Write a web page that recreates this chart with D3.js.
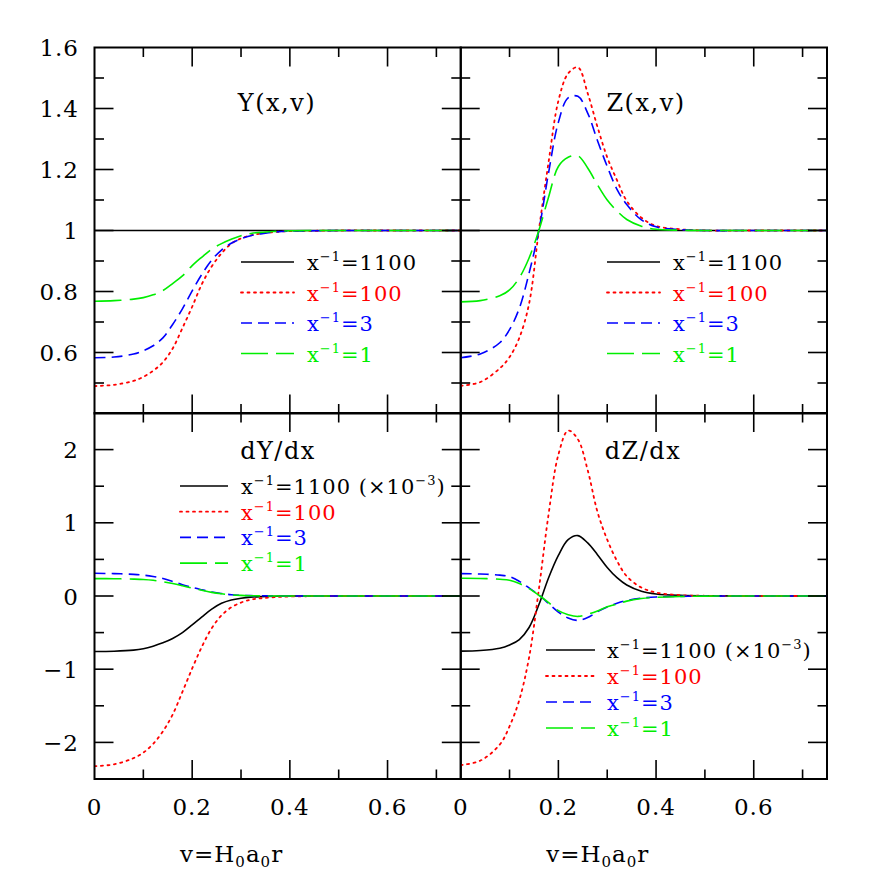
<html>
<head>
<meta charset="utf-8">
<script src="https://cdn.jsdelivr.net/npm/d3@7" charset="utf-8"></script>
<style>
  body { margin: 0; background: #fff; }
  text { font-family: "DejaVu Serif", serif; }
</style>
</head>
<body>
<script>
// sample points in v = H0 a0 r
var vGrid = [0, 0.04, 0.08, 0.10, 0.12, 0.14, 0.16, 0.18, 0.20, 0.22, 0.24, 0.26,
             0.28, 0.30, 0.32, 0.34, 0.37, 0.40, 0.45, 0.50, 0.60, 0.75];

// Y(x,v)
var Y_1100 = [1,1,1,1,1,1,1,1,1,1,1,1,1,1,1,1,1,1,1,1,1,1];
var Y_100  = [0.490,0.494,0.507,0.520,0.540,0.568,0.613,0.680,0.750,0.825,0.882,0.925,
              0.957,0.974,0.984,0.990,0.995,0.998,0.999,1,1,1];
var Y_3    = [0.583,0.585,0.595,0.606,0.622,0.648,0.692,0.743,0.802,0.857,0.903,0.936,
              0.958,0.973,0.983,0.989,0.995,0.998,0.999,1,1,1];
var Y_1    = [0.768,0.770,0.775,0.780,0.789,0.803,0.826,0.851,0.885,0.913,0.939,0.957,
              0.971,0.983,0.990,0.994,0.997,0.999,1,1,1,1];

// Z(x,v)
var Z_1100 = [1,1,1,1,1,1,1,1,1,1,1,1,1,1,1,1,1,1,1,1,1,1];
var Z_100  = [0.491,0.503,0.548,0.585,0.648,0.760,1.0,1.225,1.425,1.515,1.535,1.45,
              1.34,1.24,1.165,1.097,1.042,1.015,1.004,1.0,1,1];
var Z_3    = [0.583,0.595,0.632,0.675,0.745,0.86,1.0,1.19,1.355,1.435,1.44,1.385,
              1.295,1.21,1.135,1.085,1.035,1.012,1.003,1.0,1,1];
var Z_1    = [0.766,0.770,0.786,0.805,0.845,0.91,1.0,1.11,1.21,1.24,1.245,1.205,
              1.15,1.10,1.064,1.036,1.014,1.004,1.001,1,1,1];

// dY/dx  (x^-1 = 1100 scaled by 1e-3)
var dY_1100 = [-0.758,-0.755,-0.74,-0.72,-0.685,-0.64,-0.58,-0.50,-0.395,-0.285,-0.18,-0.10,
               -0.055,-0.03,-0.015,-0.008,-0.003,-0.001,0,0,0,0];
var dY_100  = [-2.324,-2.30,-2.215,-2.14,-2.02,-1.85,-1.62,-1.31,-0.99,-0.69,-0.44,-0.265,
               -0.155,-0.09,-0.05,-0.032,-0.015,-0.007,-0.002,0,0,0];
var dY_3    = [0.31,0.306,0.295,0.285,0.267,0.24,0.198,0.155,0.117,0.085,0.055,0.035,
               0.018,0.01,0.005,0.003,0.001,0,0,0,0,0];
var dY_1    = [0.237,0.236,0.231,0.226,0.215,0.195,0.17,0.14,0.108,0.078,0.05,0.03,
               0.016,0.008,0.004,0.002,0,0,0,0,0,0];

// dZ/dx  (x^-1 = 1100 scaled by 1e-3)
var dZ_1100 = [-0.753,-0.745,-0.715,-0.67,-0.595,-0.43,-0.12,0.25,0.555,0.77,0.825,0.725,
               0.565,0.39,0.25,0.15,0.065,0.028,0.008,0.002,0,0];
var dZ_100  = [-2.31,-2.25,-2.03,-1.78,-1.42,-0.84,0.09,1.12,1.93,2.26,2.14,1.72,
               1.15,0.77,0.48,0.27,0.115,0.048,0.012,0.003,0,0];
var dZ_3    = [0.306,0.30,0.285,0.265,0.20,0.11,0.015,-0.105,-0.22,-0.30,-0.333,-0.295,
               -0.215,-0.15,-0.10,-0.062,-0.03,-0.013,-0.005,-0.002,0,0];
var dZ_1    = [0.242,0.24,0.228,0.215,0.17,0.10,0.01,-0.09,-0.20,-0.255,-0.279,-0.25,
               -0.205,-0.148,-0.11,-0.07,-0.035,-0.018,-0.006,-0.002,0,0];

var seriesNames = ["1100", "100", "3", "1"];
var colors = ["#000000", "#ff0000", "#0000ff", "#00ee00"];
var dashes = [null, "2,4.5", "11,6", "27,8"];

var xTicks = [0, 0.2, 0.4, 0.6];
var yTicksTop = [0.6, 0.8, 1, 1.2, 1.4, 1.6];
var yTicksBot = [-2, -1, 0, 1, 2];

var W = 872, H = 872;
var svg = d3.select("body").append("svg").attr("width", W).attr("height", H);

var colX = [94.5, 460.7], colW = 366.3;
var rowY = [47.5, 413], rowH = 366;

var panels = [
  {col: 0, row: 0, title: "Y(x,v)", tx: 277, ty: 111, data: [Y_1100, Y_100, Y_3, Y_1],
   dom: [0.4, 1.6], ticks: yTicksTop, minor: 0.1, leg: {x1: 241, x2: 294, tx: 307, y0: 262, dy: 30.5}, scaled: false},
  {col: 1, row: 0, title: "Z(x,v)", tx: 646, ty: 111, data: [Z_1100, Z_100, Z_3, Z_1],
   dom: [0.4, 1.6], ticks: yTicksTop, minor: 0.1, leg: {x1: 607, x2: 660, tx: 673, y0: 262, dy: 30.5}, scaled: false},
  {col: 0, row: 1, title: "dY/dx", tx: 278, ty: 459, data: [dY_1100, dY_100, dY_3, dY_1],
   dom: [-2.5, 2.5], ticks: yTicksBot, minor: 0.5, leg: {x1: 180, x2: 228, tx: 241, y0: 486, dy: 25.7}, scaled: true},
  {col: 1, row: 1, title: "dZ/dx", tx: 643, ty: 459, data: [dZ_1100, dZ_100, dZ_3, dZ_1],
   dom: [-2.5, 2.5], ticks: yTicksBot, minor: 0.5, leg: {x1: 546, x2: 595, tx: 607, y0: 650, dy: 26}, scaled: true}
];

function fmt(d) {
  var s = String(+d.toFixed(2));
  return d < 0 ? "\u2212" + s.slice(1) : s;
}

panels.forEach(function(p, pi) {
  var x0 = colX[p.col], y0 = rowY[p.row];
  var x = d3.scaleLinear().domain([0, 0.75]).range([x0, x0 + colW]);
  var y = d3.scaleLinear().domain(p.dom).range([y0 + rowH, y0]);
  var g = svg.append("g");

  g.append("clipPath").attr("id", "clip" + pi)
    .append("rect").attr("x", x0).attr("y", y0).attr("width", colW).attr("height", rowH);

  // curves
  var line = d3.line()
    .x(function(d) { return x(d[0]); })
    .y(function(d) { return y(d[1]); })
    .curve(d3.curveCatmullRom.alpha(0.5));

  p.data.forEach(function(vals, si) {
    var pts = vGrid.map(function(v, i) { return [v, vals[i]]; });
    g.append("path")
      .attr("clip-path", "url(#clip" + pi + ")")
      .attr("d", line(pts))
      .attr("fill", "none")
      .attr("stroke", colors[si])
      .attr("stroke-width", si == 1 ? 1.8 : 1.6)
      .attr("stroke-linecap", si == 1 ? "round" : "butt")
      .attr("stroke-dasharray", dashes[si]);
  });

  // inward ticks on all four sides
  var xMaj = d3.range(0, 0.75, 0.2), xMin = d3.range(0.1, 0.75, 0.2);
  var yMaj = p.ticks.filter(function(t) { return t > p.dom[0] && t < p.dom[1]; });
  var yMin = d3.range(p.dom[0] + p.minor, p.dom[1] - 1e-9, p.minor)
    .filter(function(t) { return yMaj.every(function(m) { return Math.abs(m - t) > 1e-6; }); });

  var tk = g.append("g").attr("stroke", "#000").attr("stroke-width", 1.6);
  function hx(v, len) {
    tk.append("line").attr("x1", x(v)).attr("x2", x(v)).attr("y1", y0 + rowH).attr("y2", y0 + rowH - len);
    tk.append("line").attr("x1", x(v)).attr("x2", x(v)).attr("y1", y0).attr("y2", y0 + len);
  }
  function hy(v, len) {
    tk.append("line").attr("y1", y(v)).attr("y2", y(v)).attr("x1", x0).attr("x2", x0 + len);
    tk.append("line").attr("y1", y(v)).attr("y2", y(v)).attr("x1", x0 + colW).attr("x2", x0 + colW - len);
  }
  xMaj.forEach(function(v) { if (v > 0) hx(v, 19); });
  xMin.forEach(function(v) { hx(v, 9.5); });
  yMaj.forEach(function(v) { hy(v, 19); });
  yMin.forEach(function(v) { hy(v, 9.5); });

  // frame
  g.append("rect").attr("x", x0).attr("y", y0).attr("width", colW).attr("height", rowH)
    .attr("fill", "none").attr("stroke", "#000").attr("stroke-width", 2);

  // y tick labels on left column
  if (p.col == 0) {
    p.ticks.forEach(function(t) {
      g.append("text").attr("x", 79).attr("y", y(t) + 8.5)
        .attr("text-anchor", "end").attr("font-size", 23).attr("letter-spacing", 1)
        .text(fmt(t));
    });
  }
  // x tick labels on bottom row
  if (p.row == 1) {
    xTicks.forEach(function(t) {
      g.append("text").attr("x", x(t)).attr("y", 815)
        .attr("text-anchor", "middle").attr("font-size", 23).attr("letter-spacing", 1)
        .text(fmt(t));
    });
    var xl = g.append("text").attr("x", x(0.25) + 15).attr("y", 862)
      .attr("text-anchor", "middle").attr("font-size", 23).attr("letter-spacing", 1);
    xl.append("tspan").text("v=H");
    xl.append("tspan").attr("font-size", 15).attr("dy", 5).text("0");
    xl.append("tspan").attr("dy", -5).text("a");
    xl.append("tspan").attr("font-size", 15).attr("dy", 5).text("0");
    xl.append("tspan").attr("dy", -5).text("r");
  }

  // panel title
  g.append("text").attr("x", p.tx).attr("y", p.ty).attr("text-anchor", "middle")
    .attr("font-size", 24).attr("letter-spacing", 1.5).text(p.title);

  // legend
  seriesNames.forEach(function(name, si) {
    var ly = p.leg.y0 + si * p.leg.dy;
    g.append("line").attr("x1", p.leg.x1).attr("x2", p.leg.x2).attr("y1", ly).attr("y2", ly)
      .attr("stroke", colors[si]).attr("stroke-width", si == 1 ? 1.8 : 1.6)
      .attr("stroke-linecap", si == 1 ? "round" : "butt")
      .attr("stroke-dasharray", dashes[si]);
    var t = g.append("text").attr("x", p.leg.tx).attr("y", ly + 8)
      .attr("font-size", 21).attr("letter-spacing", 1).attr("fill", colors[si]);
    t.append("tspan").text("x");
    t.append("tspan").attr("font-size", 13).attr("dy", -9).text("\u22121");
    t.append("tspan").attr("dy", 9).text("=" + name);
    if (p.scaled && si == 0) {
      t.append("tspan").text(" (\u00d710");
      t.append("tspan").attr("font-size", 13).attr("dy", -9).text("\u22123");
      t.append("tspan").attr("dy", 9).text(")");
    }
  });
});
</script>
</body>
</html>
